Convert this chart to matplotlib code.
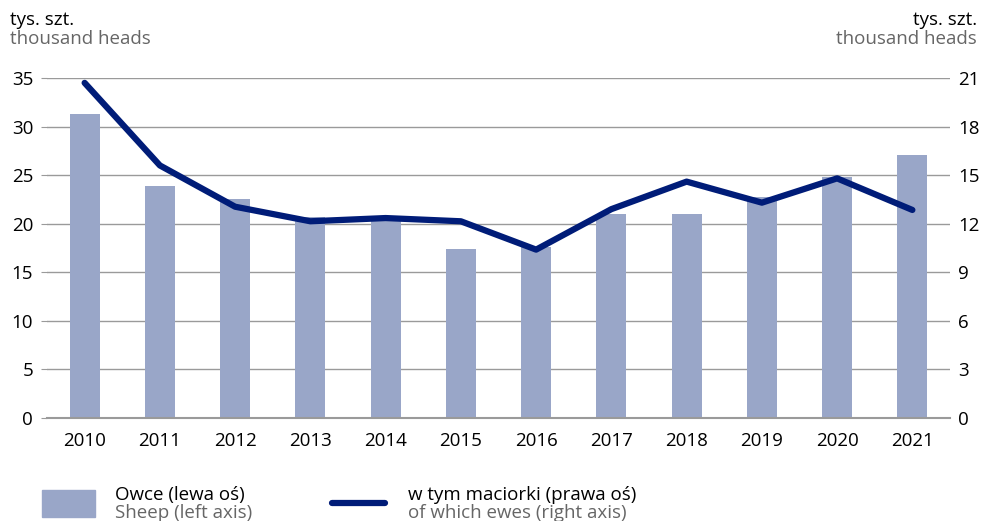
import numpy as np
import matplotlib.pyplot as plt

plt.rcParams['font.family'] = ['Open Sans', 'DejaVu Sans']

years = ['2010', '2011', '2012', '2013', '2014', '2015',
         '2016', '2017', '2018', '2019', '2020', '2021']
sheep = [31.3, 23.9, 22.5, 20.7, 20.3, 17.4, 17.6, 21.0, 21.0, 22.8, 24.8, 27.1]
ewes = [20.7, 15.6, 13.05, 12.15, 12.35, 12.15, 10.4, 12.9, 14.6, 13.3, 14.8, 12.85]

left_ticks = [0, 5, 10, 15, 20, 25, 30, 35]
right_ticks = [0, 3, 6, 9, 12, 15, 18, 21]

bar_col = '#99a6c8'
line_col = '#001c78'
grid_col = '#9a9a9a'
grey_txt = '#666666'
fs = 13.5

fig = plt.figure(figsize=(9.82, 5.21), dpi=100)
ax = fig.add_axes([47 / 982, 1 - 418 / 521, 903 / 982, 340 / 521])
x = np.arange(len(years))

ax.bar(x, sheep, width=0.4, color=bar_col, zorder=2)
ax.set_xlim(-0.5, len(years) - 0.5)
ax.set_ylim(0, 35)
ax.set_yticks(left_ticks)
ax.set_xticks(x)
ax.set_xticklabels(years)
ax.grid(axis='y', color=grid_col, lw=1.0, zorder=0)
ax.set_axisbelow(True)
for s in ['top', 'right', 'left']:
    ax.spines[s].set_visible(False)
ax.spines['bottom'].set_color(grid_col)
ax.spines['bottom'].set_linewidth(1.5)
ax.tick_params(axis='y', length=4, color=grid_col, labelsize=fs, pad=6)
ax.tick_params(axis='x', length=0, labelsize=fs, pad=10)

ax2 = ax.twinx()
ax2.plot(x, ewes, color=line_col, lw=4.5, solid_capstyle='round', zorder=3, clip_on=False)
ax2.set_ylim(0, 21)
ax2.set_yticks(right_ticks)
for s in ['top', 'right', 'left', 'bottom']:
    ax2.spines[s].set_visible(False)
ax2.tick_params(axis='y', length=0, labelsize=fs, pad=6)

# unit headers
fig.text(10 / 982, 1 - 20 / 521, 'tys. szt.', fontsize=fs, va='center', ha='left')
fig.text(10 / 982, 1 - 39 / 521, 'thousand heads', fontsize=fs, va='center', ha='left', color=grey_txt)
fig.text(977 / 982, 1 - 20 / 521, 'tys. szt.', fontsize=fs, va='center', ha='right')
fig.text(977 / 982, 1 - 39 / 521, 'thousand heads', fontsize=fs, va='center', ha='right', color=grey_txt)

# legend
fig.patches.append(plt.Rectangle((42 / 982, 1 - 517 / 521), 53 / 982, 27 / 521,
                                 transform=fig.transFigure, color=bar_col))
fig.text(115 / 982, 1 - 495 / 521, 'Owce (lewa oś)', fontsize=fs, va='center')
fig.text(115 / 982, 1 - 513 / 521, 'Sheep (left axis)', fontsize=fs, va='center', color=grey_txt)
fig.lines.append(plt.Line2D([332 / 982, 385 / 982], [1 - 503 / 521, 1 - 503 / 521],
                            transform=fig.transFigure, color=line_col, lw=4.5,
                            solid_capstyle='round'))
fig.text(408 / 982, 1 - 495 / 521, 'w tym maciorki (prawa oś)', fontsize=fs, va='center')
fig.text(408 / 982, 1 - 513 / 521, 'of which ewes (right axis)', fontsize=fs, va='center', color=grey_txt)

fig.savefig('out.png', dpi=100)
